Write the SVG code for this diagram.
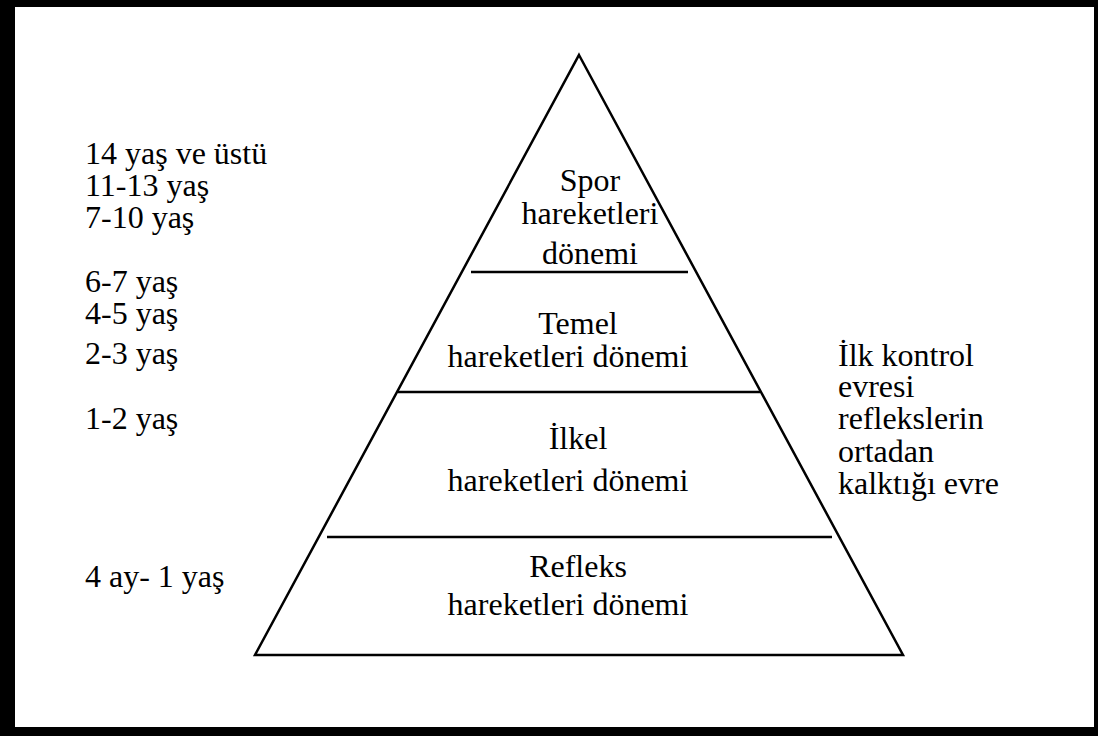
<svg xmlns="http://www.w3.org/2000/svg" width="1098" height="736" viewBox="0 0 1098 736">
<style>
  text { font-family: "Liberation Serif", "Times New Roman", serif; font-size: 32px; fill: #000; }
  .c { text-anchor: middle; }
  .ln { stroke: #000; stroke-width: 2.5; fill: none; }
</style>
<rect x="0" y="0" width="1098" height="736" fill="#fff"/>
<path d="M0,0 H1098 V736 H0 Z M15,7 V727 H1094 V7 Z" fill="#000" fill-rule="evenodd"/>
<g id="pyramid">
  <polygon class="ln" points="579,55 903,655 255,655" stroke-linejoin="miter"/>
</g>
<g id="connectors">
  <line class="ln" x1="471" y1="272" x2="688" y2="272"/>
  <line class="ln" x1="398" y1="392" x2="760" y2="392"/>
  <line class="ln" x1="327" y1="537" x2="832" y2="537"/>
</g>
<g id="spor">
  <text class="c" x="590" y="191">Spor</text>
  <text class="c" x="590" y="224">hareketleri</text>
  <text class="c" x="590" y="264">dönemi</text>
</g>
<g id="temel">
  <text class="c" x="578" y="334">Temel</text>
  <text class="c" x="568" y="367">hareketleri dönemi</text>
</g>
<g id="ilkel">
  <text class="c" x="578" y="449">İlkel</text>
  <text class="c" x="568" y="491">hareketleri dönemi</text>
</g>
<g id="refleks">
  <text class="c" x="578" y="577">Refleks</text>
  <text class="c" x="568" y="615">hareketleri dönemi</text>
</g>
<g id="ages">
  <text x="85" y="164">14 yaş ve üstü</text>
  <text x="85" y="196">11-13 yaş</text>
  <text x="85" y="228">7-10 yaş</text>
  <text x="85" y="292">6-7 yaş</text>
  <text x="85" y="324">4-5 yaş</text>
  <text x="85" y="364">2-3 yaş</text>
  <text x="85" y="429">1-2 yaş</text>
  <text x="85" y="587">4 ay- 1 yaş</text>
</g>
<g id="note">
  <text x="838" y="366">İlk kontrol</text>
  <text x="838" y="397">evresi</text>
  <text x="838" y="429">reflekslerin</text>
  <text x="838" y="462">ortadan</text>
  <text x="838" y="494">kalktığı evre</text>
</g>
</svg>
